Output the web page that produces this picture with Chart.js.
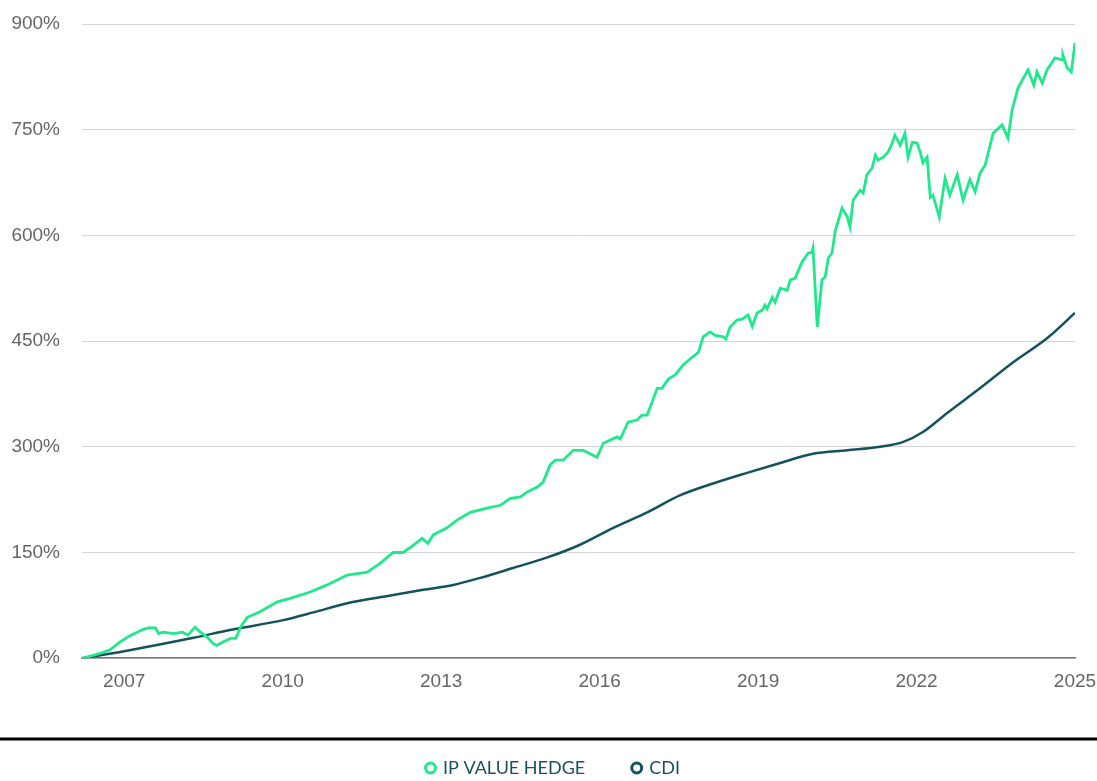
<!DOCTYPE html>
<html>
<head>
<meta charset="utf-8">
<script src="https://cdn.jsdelivr.net/npm/chart.js@4/dist/chart.umd.min.js"></script>
<style>
  html, body { margin: 0; padding: 0; background: #fff; width: 1097px; height: 781px; overflow: hidden; }
  #box { width: 1097px; height: 781px; position: relative; }
</style>
</head>
<body>
<div id="box"><canvas id="returnsChart"></canvas></div>
<script>
// x values are decimal years, y values are cumulative return in %
var hedgeYears = [2006.2, 2006.36, 2006.55, 2006.73, 2006.92, 2007.11, 2007.36, 2007.46, 2007.59, 2007.65, 2007.74,
  2007.93, 2008.1, 2008.21, 2008.34, 2008.44, 2008.57, 2008.68, 2008.75, 2008.87, 2009.01, 2009.11, 2009.2,
  2009.33, 2009.57, 2009.9, 2010.14, 2010.52, 2010.84, 2011.22, 2011.6, 2011.85, 2012.09, 2012.28, 2012.47,
  2012.64, 2012.75, 2012.85, 2013.11, 2013.3, 2013.55, 2013.87, 2014.12, 2014.31, 2014.5, 2014.63, 2014.82,
  2014.93, 2015.06, 2015.16, 2015.31, 2015.5, 2015.69, 2015.82, 2015.95, 2016.07, 2016.33, 2016.39, 2016.54,
  2016.71, 2016.8, 2016.9, 2016.99, 2017.09, 2017.18, 2017.3, 2017.43, 2017.58, 2017.75, 2017.87, 2017.96,
  2018.09, 2018.19, 2018.34, 2018.39, 2018.47, 2018.6, 2018.7, 2018.81, 2018.89, 2018.98, 2019.08, 2019.13,
  2019.17, 2019.27, 2019.32, 2019.42, 2019.55, 2019.61, 2019.7, 2019.83, 2019.95, 2020.02, 2020.04, 2020.12,
  2020.21, 2020.27, 2020.33, 2020.4, 2020.46, 2020.59, 2020.69, 2020.74, 2020.8, 2020.93, 2020.99, 2021.06,
  2021.16, 2021.22, 2021.27, 2021.37, 2021.46, 2021.54, 2021.59, 2021.69, 2021.78, 2021.84, 2021.92, 2022.01,
  2022.07, 2022.12, 2022.2, 2022.26, 2022.31, 2022.43, 2022.54, 2022.63, 2022.77, 2022.88, 2023.01, 2023.11,
  2023.2, 2023.3, 2023.45, 2023.62, 2023.73, 2023.81, 2023.92, 2024.11, 2024.22, 2024.28, 2024.38, 2024.47,
  2024.57, 2024.62, 2024.76, 2024.77, 2024.85, 2024.93, 2025.0];
var hedgeValues = [0, 3, 7, 12, 23, 32, 41, 43, 43, 35, 37,
  35, 37, 33, 44, 37, 30, 21, 18, 23, 28, 28, 44,
  58, 66, 80, 85, 94, 104, 118, 122, 135, 150, 150, 160,
  170, 163, 175, 185, 196, 207, 213, 217, 227, 229, 236, 243,
  250, 274, 281, 281, 295, 295, 290, 285, 305, 314, 311, 335,
  338, 345, 345, 363, 383, 383, 396, 402, 416, 427, 434, 456,
  463, 458, 456, 453, 470, 480, 481, 487, 471, 490, 494, 501,
  496, 512, 505, 525, 522, 537, 539, 562, 575, 576, 582, 470,
  537, 541, 568, 575, 606, 639, 626, 612, 650, 664, 660, 686,
  696, 714, 707, 711, 718, 731, 742, 728, 745, 711, 732, 731,
  718, 703, 711, 654, 657, 626, 681, 657, 686, 650, 679, 662,
  688, 700, 745, 757, 738, 778, 809, 835, 813, 832, 816, 835,
  846, 852, 849, 856, 838, 832, 873];

var cdiYears = [2006.2, 2007.0, 2008.31, 2009.0, 2010.01, 2010.58, 2011.22, 2012.04, 2012.66, 2013.23, 2013.74,
  2014.36, 2015.01, 2015.63, 2016.26, 2016.9, 2017.52, 2018.15, 2018.79, 2019.42, 2020.04, 2020.69, 2021.31,
  2021.75, 2022.12, 2022.58, 2023.2, 2023.83, 2024.47, 2025.0];
var cdiValues = [0, 10, 29, 40, 54, 65, 78, 89, 97, 104, 114,
  128, 143, 161, 185, 207, 231, 248, 263, 277, 290, 295, 300,
  307, 321, 348, 383, 420, 454, 490];

var yearTicks = [2007, 2010, 2013, 2016, 2019, 2022, 2025];
var seriesNames = ['IP VALUE HEDGE', 'CDI'];
var seriesColors = ['#1fe98c', '#14525e'];

function toPoints(xs, ys) {
  return xs.map(function (x, i) { return {x: x, y: ys[i]}; });
}

// keeps the legend short so its items sit near the bottom, and draws the black rule above it
var legendBand = {
  id: 'legendBand',
  beforeLayout: function (chart) {
    var legend = chart.legend;
    if (legend && !legend._patched) {
      var fit = legend.fit;
      legend.fit = function () {
        fit.call(this);
        this.height = 76;
      };
      legend._patched = true;
    }
  },
  afterDraw: function (chart) {
    var ctx = chart.ctx;
    var y = chart.legend.top + 34;
    ctx.save();
    ctx.strokeStyle = '#000';
    ctx.lineWidth = 3;
    ctx.beginPath();
    ctx.moveTo(0, y);
    ctx.lineTo(chart.width, y);
    ctx.stroke();
    ctx.restore();
  }
};

var lineData = {
  datasets: [{
    label: seriesNames[0],
    data: toPoints(hedgeYears, hedgeValues),
    borderColor: seriesColors[0],
    backgroundColor: '#fff',
    borderWidth: 2.8,
    pointRadius: 0,
    pointBackgroundColor: '#fff',
    pointBorderColor: seriesColors[0],
    pointBorderWidth: 3,
    tension: 0
  }, {
    label: seriesNames[1],
    data: toPoints(cdiYears, cdiValues),
    borderColor: seriesColors[1],
    backgroundColor: '#fff',
    borderWidth: 2.5,
    pointRadius: 0,
    pointBackgroundColor: '#fff',
    pointBorderColor: seriesColors[1],
    pointBorderWidth: 3,
    cubicInterpolationMode: 'monotone'
  }]
};

var lineOptions = {
  responsive: true,
  maintainAspectRatio: false,
  animation: false,
  layout: { padding: { top: 24, left: 10, right: 0, bottom: 0 } },
  plugins: {
    tooltip: { enabled: false },
    legend: {
      position: 'bottom',
      title: { display: true, text: ' ', font: { size: 6, lineHeight: 1 }, padding: 0 },
      labels: {
        usePointStyle: true,
        pointStyle: 'circle',
        boxWidth: 7,
        boxHeight: 7,
        padding: 48,
        color: '#1d4f5c',
        font: { family: 'Lato', size: 18 }
      }
    }
  },
  scales: {
    x: {
      type: 'linear',
      min: 2006.2,
      max: 2025,
      afterBuildTicks: function (axis) {
        axis.ticks = yearTicks.map(function (v) { return {value: v}; });
      },
      afterFit: function (axis) {
        axis.paddingLeft = 0;
        axis.paddingRight = 22;
      },
      grid: { display: false, drawTicks: false },
      border: { display: true, color: '#777', width: 1.5 },
      ticks: {
        padding: 12,
        color: '#666',
        maxRotation: 0,
        font: { family: 'Liberation Sans', size: 19 },
        callback: function (v) { return String(v); }
      }
    },
    y: {
      min: 0,
      max: 900,
      afterFit: function (scale) {
        scale.width = 72;
        scale.paddingTop = 0;
        scale.paddingBottom = 0;
      },
      grid: { color: '#d4d4d4', lineWidth: 1, drawTicks: false },
      border: { display: false },
      ticks: {
        stepSize: 150,
        padding: 22,
        color: '#666',
        font: { family: 'Liberation Sans', size: 19 },
        callback: function (v) { return v + '%'; }
      }
    }
  }
};

var ctx_returns = document.getElementById('returnsChart').getContext('2d');
var returnsChart = new Chart(ctx_returns, {type: 'line', data: lineData, options: lineOptions, plugins: [legendBand]});
</script>
</body>
</html>
